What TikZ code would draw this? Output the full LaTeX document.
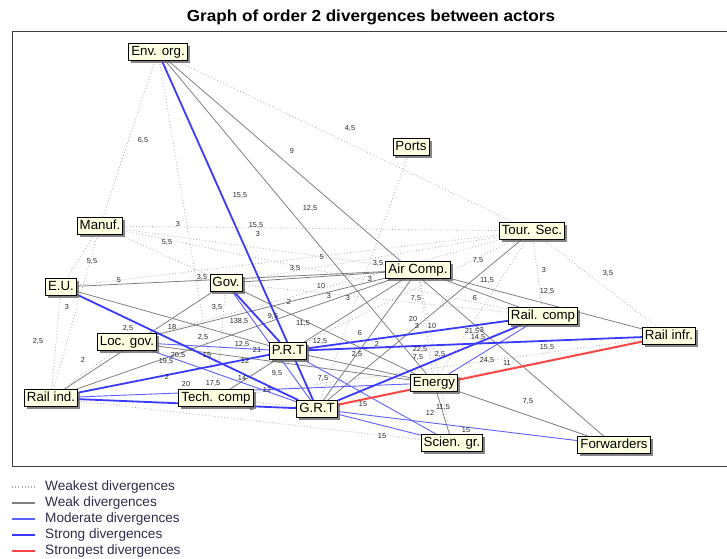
\documentclass[tikz,border=0pt]{standalone}
\usepackage{graphicx}
\usepackage{fontspec}
\setmainfont{Liberation Sans}
\usetikzlibrary{shadows,backgrounds}
\definecolor{tipfill}{RGB}{255,255,225}
\definecolor{strongblue}{RGB}{58,58,255}
\definecolor{modblue}{RGB}{95,95,255}
\definecolor{weakgray}{RGB}{128,128,128}
\definecolor{dotgray}{RGB}{170,170,170}
\definecolor{strongred}{RGB}{255,70,70}
\definecolor{legendtext}{RGB}{45,45,75}
\definecolor{frameline}{RGB}{60,60,60}

\begin{document}
\begin{tikzpicture}[x=1pt,y=-1pt,
  actor/.style={draw=black, line width=0.9pt, fill=tipfill,
    font=\fontsize{13.3}{13.3}\selectfont, inner xsep=2.5pt, inner ysep=0pt,
    minimum height=17pt, text height=9.6pt, text depth=2.6pt,
    drop shadow={shadow xshift=2.5pt, shadow yshift=-2.5pt, fill=black!60, opacity=0.8}},
  val/.style={font=\fontsize{7.3}{7.3}\selectfont, inner sep=0pt, text=black!85},
  weakest/.style={draw=dotgray, line width=0.8pt, dash pattern=on 0.8pt off 2.4pt},
  weak/.style={draw=weakgray, line width=0.8pt},
  moderate/.style={draw=modblue, line width=0.9pt},
  strong/.style={draw=strongblue, line width=1.8pt},
  strongest/.style={draw=strongred, line width=2pt},
  legendlabel/.style={font=\fontsize{13.6}{13.6}\selectfont, text=legendtext, anchor=west, inner sep=0pt},
]
\useasboundingbox (0,0) rectangle (727,558);

% title
\node[font=\bfseries\fontsize{16}{16}\selectfont, inner sep=0pt] (title) at (371,17)
  {\scalebox{1.07}[1]{Graph of order 2 divergences between actors}};

% plotting frame (open on the right)
\draw[frameline, line width=1pt] (727,31.5) -- (12.5,31.5) -- (12.5,466.5) -- (727,466.5);

% actors
\node[actor] (env)    at (158,52)  {Env. org.};
\node[actor] (ports)  at (411,147) {Ports};
\node[actor] (manuf)  at (100,226) {Manuf.};
\node[actor] (tour)   at (532,231) {Tour. Sec.};
\node[actor] (eu)     at (61,287)  {E.U.};
\node[actor] (gov)    at (226,283) {Gov.};
\node[actor] (air)    at (418,270) {Air Comp.};
\node[actor] (railc)  at (543,316) {Rail. comp};
\node[actor] (raili)  at (669,336) {Rail infr.};
\node[actor] (locgov) at (127,342) {Loc. gov.};
\node[actor] (prt)    at (288,351) {P.R.T};
\node[actor] (energy) at (434,383) {Energy};
\node[actor] (railind) at (51,398) {Rail ind.};
\node[actor] (tech)   at (216,398) {Tech. comp};
\node[actor] (grt)    at (317,409) {G.R.T};
\node[actor] (scien)  at (452,443) {Scien. gr.};
\node[actor] (fwd)    at (614,445) {Forwarders};

\begin{pgfonlayer}{background}
% weakest divergences
\foreach \a/\b in {env/manuf, env/tech, env/tour, ports/grt, manuf/eu, manuf/railind,
    manuf/air, manuf/tour, manuf/gov, manuf/railc, eu/railind, eu/tour, locgov/railind,
    locgov/tour, gov/tour, gov/railc, gov/tech, air/energy, air/scien, tour/energy,
    tour/prt, tour/railc, tour/raili, energy/raili, tech/raili, tech/grt, tech/prt,
    railind/scien, energy/fwd}
  \draw[weakest] (\a) -- (\b);
% weak divergences
\foreach \a/\b in {env/fwd, env/energy, eu/air, gov/air, eu/prt, locgov/air, railind/air,
    railind/gov, tech/air, prt/energy, gov/energy, air/raili, air/railc, tour/grt,
    energy/fwd, energy/scien, locgov/energy, grt/air}
  \draw[weak] (\a) -- (\b);
% moderate divergences
\foreach \a/\b in {gov/grt, locgov/prt, locgov/grt, railind/energy, prt/scien,
    grt/scien, grt/fwd, energy/railc}
  \draw[moderate] (\a) -- (\b);
% strong divergences
\foreach \a/\b in {env/grt, eu/grt, gov/prt, railind/prt, railind/grt, prt/railc,
    prt/raili, grt/railc}
  \draw[strong] (\a) -- (\b);
% strongest divergence
\draw[strongest] (grt) -- (raili);

% divergence values
\foreach [count=\i] \t/\x/\y in {{6,5}/143/140, {4,5}/350/128, 9/292/151, {15,5}/240/195,
    {12,5}/310/208, 3/178/224, {15,5}/256/225, 3/258/234, {5,5}/167/242, {5,5}/92/261,
    5/119/280, {3,5}/202/277, {3,5}/295/268, 5/322/257, {3,5}/378/263, 3/370/279,
    10/321/286, 3/329/296, 3/348/298, 2/289/302, 3/67/307, {3,5}/217/307, {9,5}/273/316,
    {11,5}/303/323, {138,5}/239/321, 18/172/327, {2,5}/128/328, {2,5}/38/341,
    {2,5}/203/337, {12,5}/242/344, 21/257/350, {12,5}/320/341, 6/360/333, 2/377/344,
    {2,5}/357/354, {20,5}/178/355, {19,5}/166/361, 15/207/355, 12/245/361, 2/83/360,
    2/167/377, {17,5}/213/383, 20/186/384, 14/242/378, {9,5}/277/373, 12/267/390,
    {7,5}/323/378, 2/252/408, 15/363/404, 12/430/413, {11,5}/443/407, 15/382/436,
    15/466/430, {7,5}/416/298, 20/413/319, 3/417/326, 10/432/326, {22,5}/420/349,
    {7,5}/418/357, {2,5}/440/354, {21,5}/472/331, 3/482/330, {14,5}/478/337,
    {24,5}/487/360, 11/507/363, {7,5}/478/260, {11,5}/487/280, 6/475/298, 3/544/270,
    {12,5}/547/291, {3,5}/608/273, {15,5}/547/347, {7,5}/528/401}
  \node[val] (v\i) at (\x,\y) {\t};
\end{pgfonlayer}

% legend
\foreach [count=\i] \st/\txt in {weakest/Weakest divergences, weak/Weak divergences,
    moderate/Moderate divergences, strong/Strong divergences, strongest/Strongest divergences}{
  \coordinate (ls\i) at (12,471+16*\i);
  \coordinate (le\i) at (35,471+16*\i);
  \draw[\st, line width=1.2pt] (ls\i) -- (le\i);
  \node[legendlabel] (lt\i) at (45,471+16*\i) {\txt};
}
\end{tikzpicture}
\end{document}
